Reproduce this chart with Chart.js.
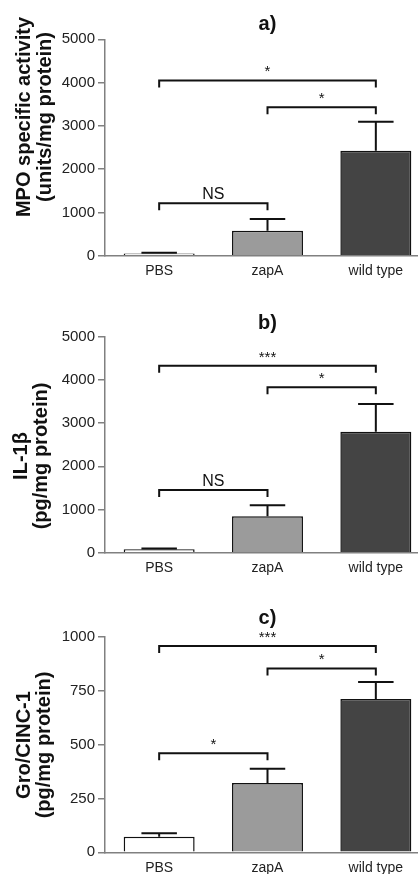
<!DOCTYPE html>
<html>
<head>
<meta charset="utf-8">
<title>MPO, IL-1β and Gro/CINC-1</title>
<script src="https://cdn.jsdelivr.net/npm/chart.js@4.4.1/dist/chart.umd.min.js"></script>
<style>
  html, body { margin: 0; padding: 0; background: #fff; }
  #wrap { position: relative; width: 418px; height: 874px; overflow: hidden; }
  #wrap canvas { position: absolute; left: 0; }
</style>
</head>
<body>
<div id="wrap">
  <canvas id="chartA" width="431" height="290" style="top:0"></canvas>
  <canvas id="chartB" width="431" height="290" style="top:290px"></canvas>
  <canvas id="chartC" width="431" height="294" style="top:580px"></canvas>
</div>
<script>
const FONT = '"Liberation Sans", Arial, Helvetica, sans-serif';

const groups = ['PBS', 'zapA', 'wild type'];
const barColors = ['#ffffff', '#9b9b9b', '#444444'];

// a) MPO specific activity
const mpoMean = [50, 575, 2425];
const mpoSem = [20, 275, 670];
const mpoTicks = [0, 1000, 2000, 3000, 4000, 5000];
const mpoSig = [[0, 2, 4050, '*'], [1, 2, 3430, '*'], [0, 1, 1210, 'NS']];

// b) IL-1beta
const il1Mean = [80, 845, 2800];
const il1Sem = [15, 255, 645];
const il1Ticks = [0, 1000, 2000, 3000, 4000, 5000];
const il1Sig = [[0, 2, 4330, '***'], [1, 2, 3830, '*'], [0, 1, 1450, 'NS']];

// c) Gro/CINC-1
const groMean = [72, 321, 711];
const groSem = [16, 66, 79];
const groTicks = [0, 250, 500, 750, 1000];
const groSig = [[0, 2, 957, '***'], [1, 2, 853, '*'], [0, 1, 459, '*']];

// error bars, significance brackets and the two-line y title
const extras = {
    id: 'extras',
    afterDatasetsDraw(chart, args, opts) {
        const ctx = chart.ctx;
        const xs = chart.scales.x, ys = chart.scales.y;
        const meta = chart.getDatasetMeta(0);
        ctx.save();
        ctx.strokeStyle = '#111';
        ctx.lineWidth = 2;
        opts.sem.forEach(function(e, i) {
            const bar = meta.data[i];
            const y0 = ys.getPixelForValue(opts.mean[i]);
            const y1 = ys.getPixelForValue(opts.mean[i] + e);
            const half = bar.width / 4;
            ctx.beginPath();
            ctx.moveTo(bar.x, y0); ctx.lineTo(bar.x, y1);
            ctx.moveTo(bar.x - half, y1); ctx.lineTo(bar.x + half, y1);
            ctx.stroke();
        });
        ctx.fillStyle = '#111';
        ctx.textAlign = 'center';
        ctx.textBaseline = 'alphabetic';
        opts.sig.forEach(function(s) {
            const xa = xs.getPixelForValue(s[0]), xb = xs.getPixelForValue(s[1]);
            const yy = ys.getPixelForValue(s[2]);
            ctx.beginPath();
            ctx.moveTo(xa, yy + 7); ctx.lineTo(xa, yy); ctx.lineTo(xb, yy); ctx.lineTo(xb, yy + 7);
            ctx.stroke();
            ctx.font = (s[3] === 'NS' ? '16px ' : '15px ') + FONT;
            ctx.fillText(s[3], (xa + xb) / 2, yy - 4);
        });
        // y axis title, drawn by hand so it can sit off-centre like the original
        ctx.font = 'bold 20px ' + FONT;
        ctx.textBaseline = 'middle';
        opts.yTitle.forEach(function(line, i) {
            ctx.save();
            ctx.translate(opts.yTitleX[i], opts.yTitleY);
            ctx.rotate(-Math.PI / 2);
            ctx.fillText(line, 0, 0);
            ctx.restore();
        });
        ctx.restore();
    }
};

function makeChart(id, p) {
    const ctx = document.getElementById(id).getContext('2d');
    return new Chart(ctx, {
        type: 'bar',
        data: {
            labels: groups,
            datasets: [{
                data: p.mean,
                backgroundColor: barColors,
                borderColor: '#111',
                borderWidth: 1.5,
                barPercentage: 0.655,
                categoryPercentage: 1
            }]
        },
        options: {
            responsive: false,
            animation: false,
            layout: { padding: { left: 0, right: 1, top: 0, bottom: 0 } },
            plugins: {
                legend: { display: false },
                tooltip: { enabled: false },
                title: {
                    display: true,
                    text: p.title,
                    fullSize: false,
                    color: '#111',
                    font: { family: FONT, size: 20, weight: 'bold', lineHeight: 1.2 },
                    padding: p.titlePad
                },
                extras: {
                    mean: p.mean, sem: p.sem, sig: p.sig,
                    yTitle: p.yTitle, yTitleX: p.yTitleX, yTitleY: p.yTitleY
                }
            },
            scales: {
                x: {
                    grid: { display: false, drawTicks: false },
                    border: { display: true, color: '#808080', width: 1.5 },
                    ticks: { color: '#222', padding: 7, font: { family: FONT, size: 14 } },
                    afterFit: function(s) { s.height = p.xHeight; }
                },
                y: {
                    min: p.ticks[0],
                    max: p.ticks[p.ticks.length - 1],
                    afterBuildTicks: function(s) { s.ticks = p.ticks.map(v => ({ value: v })); },
                    grid: { drawOnChartArea: false, drawTicks: true, tickLength: 7, color: '#808080', lineWidth: 1.5 },
                    border: { display: true, color: '#808080', width: 1.5 },
                    ticks: {
                        color: '#222', padding: 3, font: { family: FONT, size: 15 },
                        callback: function(v) { return String(v); }
                    },
                    afterFit: function(s) { s.width = 105; }
                }
            }
        },
        plugins: [extras]
    });
}

makeChart('chartA', {
    title: 'a)', titlePad: { top: 12, bottom: 3.3 }, xHeight: 34.3,
    mean: mpoMean, sem: mpoSem, ticks: mpoTicks, sig: mpoSig,
    yTitle: ['MPO specific activity', '(units/mg protein)'], yTitleX: [24, 45], yTitleY: 117
});
makeChart('chartB', {
    title: 'b)', titlePad: { top: 21, bottom: 1.7 }, xHeight: 27.3,
    mean: il1Mean, sem: il1Sem, ticks: il1Ticks, sig: il1Sig,
    yTitle: ['IL-1β', '(pg/mg protein)'], yTitleX: [21, 41], yTitleY: 166
});
makeChart('chartC', {
    title: 'c)', titlePad: { top: 26, bottom: 6.7 }, xHeight: 21.7,
    mean: groMean, sem: groSem, ticks: groTicks, sig: groSig,
    yTitle: ['Gro/CINC-1', '(pg/mg protein)'], yTitleX: [24, 44], yTitleY: 165
});
</script>
</body>
</html>
